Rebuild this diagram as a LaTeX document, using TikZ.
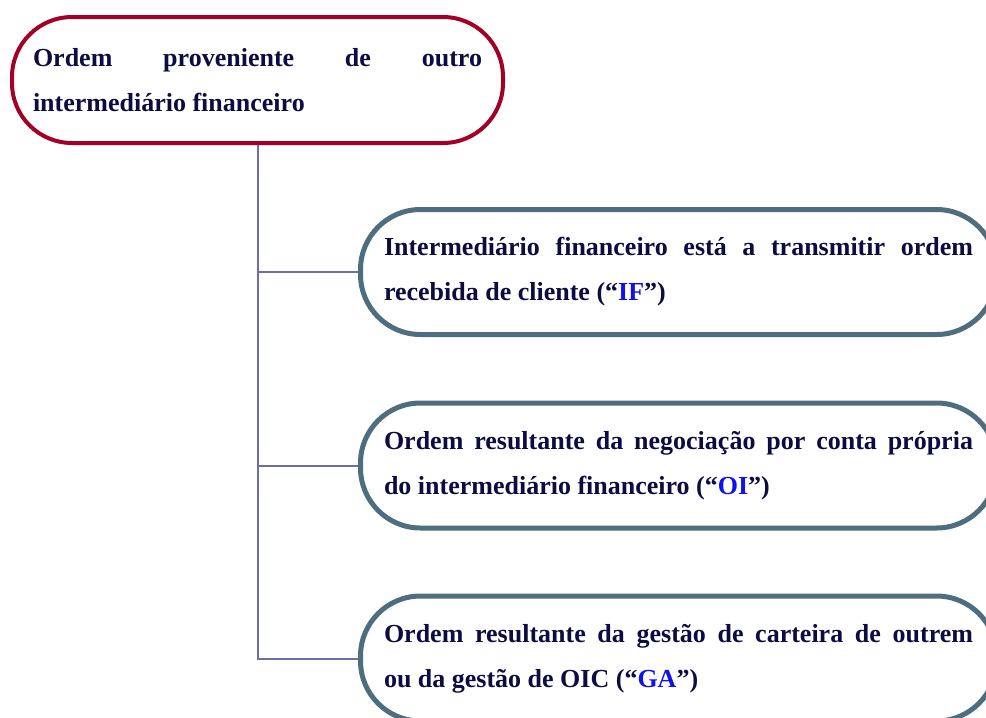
\documentclass[tikz,border=0pt]{standalone}
\usepackage{fontspec}
\setmainfont{Liberation Serif}
\usetikzlibrary{positioning}
\definecolor{ordemred}{RGB}{163, 0, 38}
\definecolor{tiposlate}{RGB}{78, 110, 128}
\definecolor{ligacao}{RGB}{110, 110, 160}
\definecolor{textonavy}{RGB}{12, 12, 64}
\definecolor{siglablue}{RGB}{16, 16, 240}

\begin{document}
\begin{tikzpicture}[x=1pt, y=-1pt,
        caixa/.style={fill=white, rounded corners=60pt, align=justify,
            text=textonavy, font=\fontsize{26}{45}\selectfont\bfseries},
        origem/.style={caixa, draw=ordemred, line width=4pt, text width=449pt,
            inner xsep=21pt, minimum height=126pt},
        tipo/.style={caixa, draw=tiposlate, line width=5pt, text width=589pt,
            inner xsep=23.5pt, minimum height=125pt},
        ligar/.style={draw=ligacao, line width=2pt}]
    \useasboundingbox (0,0) rectangle (986,718);
    \hyphenpenalty=10000

    % ordem de origem
    \node[origem] (orig) at (257.5, 80)
        {Ordem proveniente de outro\linebreak intermediário financeiro};

    % tipos de ordem
    \node[tipo] (if) at (678.5, 272)
        {Intermediário financeiro está a transmitir ordem\linebreak
         recebida de cliente (“\textcolor{siglablue}{IF}”)};
    \node[tipo] (oi) at (678.5, 465.5)
        {Ordem resultante da negociação por conta própria\linebreak
         do intermediário financeiro (“\textcolor{siglablue}{OI}”)};
    \node[tipo] (ga) at (678.5, 658.5)
        {Ordem resultante da gestão de carteira de outrem\linebreak
         ou da gestão de OIC (“\textcolor{siglablue}{GA}”)};

    % ligacoes
    \draw[ligar] (orig.south) |- (ga.west);
    \foreach \t in {if, oi}
        \draw[ligar] (orig.south |- \t.west) -- (\t.west);
\end{tikzpicture}
\end{document}
